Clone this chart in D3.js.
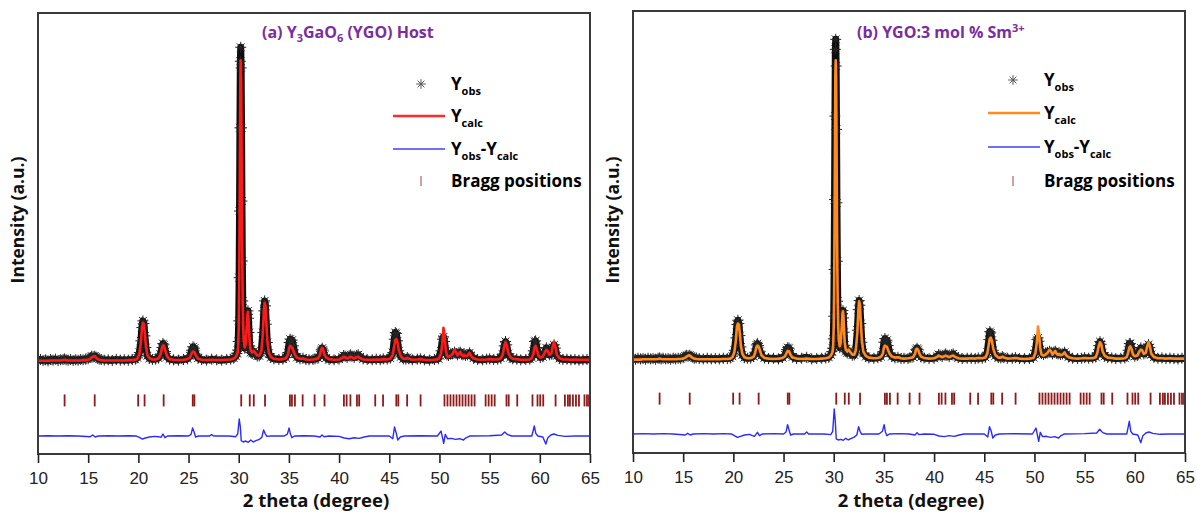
<!DOCTYPE html>
<html><head><meta charset="utf-8">
<script src="https://cdn.jsdelivr.net/npm/d3@7"></script>
<style>body{margin:0;background:#fff;}svg{display:block;}</style>
</head><body>
<svg id="c" width="1197" height="515"></svg>
<script>
// ---------- data ----------
const xTicks = [10,15,20,25,30,35,40,45,50,55,60,65];
const xDomain = [10,65];
const yDomain = [-280,1045];

// [2theta, Yobs, Ycalc]  -- panel (a) Y3GaO6 host
const profileA = [[10.0,2,0],[10.25,4,0],[10.5,1,0],[10.75,3,0],[11.0,0,0],[11.25,4,1],[11.5,2,1],[11.75,5,1],[12.0,1,1],[12.25,3,1],[12.5,4,2],[12.65,6,3],[12.8,3,2],[13.0,2,1],[13.25,4,1],[13.5,1,1],[13.75,3,1],[14.0,2,1],[14.25,4,1],[14.5,3,2],[14.75,5,2],[15.0,6,3],[15.2,10,6],[15.35,14,10],[15.5,12,13],[15.65,14,14],[15.8,11,9],[15.95,8,5],[16.1,5,3],[16.3,4,2],[16.6,2,1],[17.0,3,1],[17.4,1,1],[17.8,4,1],[18.2,2,1],[18.6,3,1],[19.0,2,2],[19.4,4,2],[19.7,5,3],[19.9,9,6],[20.1,25,20],[20.25,60,55],[20.35,100,95],[20.45,120,114],[20.55,112,110],[20.65,75,80],[20.75,40,45],[20.9,15,18],[21.1,7,8],[21.4,4,4],[21.7,5,4],[22.0,8,7],[22.2,20,18],[22.35,40,38],[22.45,52,46],[22.55,48,45],[22.7,28,30],[22.85,12,14],[23.1,5,5],[23.5,3,3],[24.0,2,2],[24.5,4,3],[24.9,6,5],[25.15,15,10],[25.3,32,22],[25.45,42,28],[25.6,38,26],[25.75,20,15],[25.95,8,6],[26.3,4,3],[26.8,2,2],[27.3,5,3],[27.8,3,2],[28.3,2,2],[28.8,4,3],[29.2,5,4],[29.5,8,6],[29.7,14,12],[29.82,22,18],[29.9,32,26],[29.95,58,46],[30.0,120,100],[30.04,250,200],[30.08,450,380],[30.12,700,620],[30.16,900,850],[30.2,942,903],[30.24,880,850],[30.28,700,660],[30.32,480,440],[30.36,300,280],[30.4,180,170],[30.45,110,100],[30.5,66,60],[30.6,38,40],[30.7,48,52],[30.8,95,100],[30.87,140,140],[30.92,150,147],[30.97,128,130],[31.03,85,90],[31.1,45,52],[31.2,25,30],[31.35,22,25],[31.5,28,30],[31.65,20,24],[31.85,14,16],[32.05,15,16],[32.25,30,28],[32.4,85,80],[32.5,150,145],[32.58,180,174],[32.66,165,165],[32.75,110,115],[32.85,55,60],[33.0,22,25],[33.2,10,12],[33.5,6,6],[34.0,4,4],[34.4,5,5],[34.7,10,8],[34.9,25,18],[35.02,55,38],[35.12,65,45],[35.22,55,42],[35.32,62,40],[35.45,45,30],[35.6,22,18],[35.8,10,10],[36.1,6,6],[36.4,8,7],[36.7,4,4],[37.0,3,3],[37.4,4,4],[37.6,6,5],[37.9,8,7],[38.1,18,18],[38.22,33,35],[38.32,38,39],[38.42,32,33],[38.55,16,18],[38.7,8,10],[39.0,4,5],[39.5,3,3],[40.0,5,4],[40.3,10,8],[40.45,16,12],[40.6,14,10],[40.8,10,7],[41.0,15,10],[41.15,18,12],[41.3,14,10],[41.5,10,7],[41.75,16,11],[41.9,18,12],[42.1,12,8],[42.4,6,4],[42.8,4,3],[43.3,3,3],[43.7,5,4],[44.1,3,3],[44.4,6,5],[44.8,5,4],[45.1,8,6],[45.35,25,18],[45.5,65,45],[45.6,85,62],[45.7,82,65],[45.82,60,55],[45.95,30,32],[46.15,12,14],[46.4,6,6],[46.65,5,6],[46.8,10,9],[46.95,6,6],[47.3,3,3],[47.8,5,4],[48.1,6,5],[48.5,3,3],[49.0,2,2],[49.5,4,3],[49.9,6,5],[50.15,30,20],[50.3,65,55],[50.4,72,99],[50.5,58,80],[50.62,30,35],[50.75,18,15],[50.9,16,12],[51.1,20,15],[51.3,22,20],[51.5,26,33],[51.65,22,26],[51.8,18,16],[51.95,24,22],[52.08,26,27],[52.2,20,18],[52.35,18,14],[52.45,20,18],[52.6,16,14],[52.8,18,16],[53.0,24,24],[53.15,16,14],[53.4,8,7],[53.8,4,4],[54.3,3,3],[54.7,5,4],[55.0,6,5],[55.4,4,4],[55.8,5,4],[56.1,8,7],[56.3,20,18],[56.45,45,42],[56.58,58,56],[56.7,48,48],[56.85,22,25],[57.05,10,12],[57.3,6,6],[57.7,5,5],[58.1,3,3],[58.6,4,3],[59.0,5,4],[59.2,10,8],[59.35,30,20],[59.48,58,40],[59.58,60,45],[59.7,40,35],[59.85,18,16],[60.05,10,10],[60.3,12,12],[60.5,28,25],[60.65,39,33],[60.78,30,30],[60.95,18,18],[61.15,20,22],[61.3,40,45],[61.42,48,57],[61.55,38,42],[61.7,15,18],[61.95,7,8],[62.3,4,4],[62.7,5,4],[63.1,3,3],[63.5,4,4],[63.9,2,3],[64.3,3,3],[64.7,4,3],[65.0,3,3]];

// [2theta, Yobs - Ycalc] -- panel (a)
const diffA = [[10,0],[11,1],[12,0],[13,1],[14,0],[15.2,-2],[15.45,3],[15.7,-3],[16,0],[17,1],[18,0],[19,1],[19.8,0],[20.1,-4],[20.4,-9],[20.7,-6],[21.1,-3],[21.6,-1],[22.0,-2],[22.25,-4],[22.45,6],[22.65,-5],[22.9,0],[24,1],[25.0,0],[25.25,5],[25.4,24],[25.55,12],[25.7,-3],[26.0,0],[27.1,0],[27.3,4],[27.5,0],[29.0,0],[29.7,-2],[29.9,6],[30.05,51],[30.15,30],[30.25,-14],[30.45,-18],[30.7,-15],[30.95,-19],[31.2,-12],[31.45,-18],[31.7,-14],[32.0,-11],[32.3,-4],[32.48,18],[32.62,8],[32.8,-1],[33.2,0],[34.5,0],[34.85,6],[35.02,24],[35.15,6],[35.3,-5],[35.55,0],[36.5,1],[37.5,0],[38.1,-3],[38.3,3],[38.5,-2],[39,0],[40,-1],[40.5,-6],[41.0,-8],[41.5,-5],[42.0,-7],[42.5,-3],[43,0],[45.0,0],[45.35,-8],[45.52,27],[45.68,10],[45.85,-12],[46.1,-3],[46.5,0],[48,1],[49.8,0],[50.15,15],[50.3,-4],[50.42,-22],[50.58,5],[50.8,-8],[51.2,-7],[51.6,-10],[52.0,-8],[52.4,-12],[52.6,-6],[53.0,0],[55,1],[56.2,3],[56.5,12],[56.8,4],[57.2,0],[59.2,0],[59.45,30],[59.6,8],[59.8,0],[60.3,-3],[60.6,-24],[60.8,-5],[61.1,3],[61.4,6],[61.8,2],[62.5,-1],[63.5,0],[65,0]];

// [2theta, Yobs, Ycalc] -- panel (b) YGO:3 mol % Sm3+
const profileB = [[10.0,3,0],[10.25,1,0],[10.5,4,0],[10.75,2,0],[11.0,3,1],[11.25,1,1],[11.5,4,1],[11.75,2,1],[12.0,3,1],[12.25,1,1],[12.5,4,2],[12.65,5,3],[12.8,2,2],[13.0,4,1],[13.25,2,1],[13.5,3,1],[13.75,1,1],[14.0,4,1],[14.25,2,1],[14.5,4,2],[14.75,3,2],[15.0,6,3],[15.2,11,6],[15.35,13,9],[15.5,11,12],[15.65,13,13],[15.8,10,8],[15.95,7,5],[16.1,4,3],[16.3,5,2],[16.6,3,1],[17.0,2,1],[17.4,4,1],[17.8,2,1],[18.2,3,1],[18.6,2,1],[19.0,4,2],[19.4,3,2],[19.7,5,3],[19.9,10,7],[20.1,28,22],[20.25,65,58],[20.35,105,98],[20.45,118,108],[20.55,108,104],[20.65,72,76],[20.75,38,42],[20.9,14,17],[21.1,6,7],[21.4,4,4],[21.7,5,4],[22.0,9,8],[22.15,22,18],[22.3,44,38],[22.4,48,42],[22.5,42,40],[22.65,25,28],[22.8,12,13],[23.1,5,5],[23.5,3,3],[24.0,4,2],[24.5,2,3],[24.9,6,5],[25.15,14,10],[25.3,30,20],[25.42,36,26],[25.55,34,25],[25.7,18,14],[25.9,8,6],[26.3,3,3],[26.8,4,2],[27.3,7,3],[27.8,2,2],[28.3,3,2],[28.8,4,3],[29.2,5,4],[29.5,7,6],[29.7,14,12],[29.82,24,18],[29.9,34,26],[29.95,62,46],[30.0,130,100],[30.04,270,200],[30.08,480,380],[30.12,730,620],[30.16,930,850],[30.2,960,897],[30.24,880,845],[30.28,690,655],[30.32,470,435],[30.36,295,275],[30.4,175,165],[30.45,105,98],[30.5,64,60],[30.6,36,40],[30.7,45,50],[30.8,92,98],[30.87,138,138],[30.92,147,145],[30.97,125,128],[31.03,82,88],[31.1,43,50],[31.2,24,30],[31.35,20,24],[31.5,26,30],[31.65,19,23],[31.85,13,15],[32.05,14,15],[32.2,30,28],[32.35,88,80],[32.45,150,145],[32.53,177,175],[32.61,163,165],[32.7,108,112],[32.8,52,58],[32.95,20,24],[33.2,9,11],[33.5,5,6],[34.0,4,4],[34.4,6,5],[34.7,9,8],[34.9,24,18],[35.0,52,36],[35.1,63,42],[35.2,52,40],[35.3,58,38],[35.42,42,28],[35.58,20,17],[35.8,9,9],[36.1,5,6],[36.4,7,7],[36.7,3,4],[37.0,4,3],[37.4,3,4],[37.6,6,5],[37.9,8,7],[38.1,17,17],[38.2,30,31],[38.3,34,33],[38.4,30,30],[38.55,15,17],[38.7,8,9],[39.0,5,5],[39.5,3,3],[40.0,4,4],[40.3,9,8],[40.45,15,12],[40.6,13,10],[40.8,9,7],[41.0,14,10],[41.15,17,12],[41.3,13,10],[41.5,9,7],[41.75,15,11],[41.9,17,12],[42.1,11,8],[42.4,6,4],[42.8,3,3],[43.3,4,3],[43.7,4,4],[44.1,3,3],[44.4,5,5],[44.8,4,4],[45.1,7,6],[45.3,22,18],[45.45,60,45],[45.55,84,63],[45.65,80,66],[45.77,58,55],[45.9,28,32],[46.1,11,14],[46.4,6,6],[46.65,5,6],[46.8,9,9],[46.95,6,6],[47.3,4,3],[47.8,4,4],[48.1,6,5],[48.5,3,3],[49.0,3,2],[49.5,3,3],[49.9,6,5],[50.1,28,20],[50.25,60,55],[50.35,65,99],[50.45,55,80],[50.57,30,35],[50.7,18,15],[50.9,15,12],[51.1,19,15],[51.3,22,20],[51.5,25,30],[51.65,22,25],[51.8,17,15],[51.95,23,21],[52.08,25,26],[52.2,20,18],[52.35,17,14],[52.45,19,17],[52.6,15,13],[52.8,17,15],[53.0,22,22],[53.15,15,13],[53.4,8,7],[53.8,4,4],[54.3,3,3],[54.7,4,4],[55.0,6,5],[55.4,4,4],[55.8,5,4],[56.1,8,7],[56.25,20,18],[56.4,42,40],[56.53,54,52],[56.65,46,46],[56.8,21,24],[57.0,10,12],[57.3,6,6],[57.7,5,5],[58.1,3,3],[58.6,4,3],[59.0,5,4],[59.2,10,8],[59.33,28,20],[59.45,48,36],[59.55,48,40],[59.67,36,32],[59.82,17,15],[60.0,10,10],[60.25,12,12],[60.45,26,24],[60.6,35,30],[60.73,28,28],[60.9,17,17],[61.1,20,21],[61.25,38,42],[61.37,45,52],[61.5,36,40],[61.65,15,17],[61.9,7,8],[62.3,4,4],[62.7,5,4],[63.1,3,3],[63.5,4,4],[63.9,3,3],[64.3,2,3],[64.7,4,3],[65.0,3,3]];

// [2theta, Yobs - Ycalc] -- panel (b)
const diffB = [[10,0],[11,1],[12,0],[13,1],[14,0],[15.2,-3],[15.45,2],[15.7,-3],[16,0],[17,1],[18,0],[19,1],[19.8,0],[20.1,-5],[20.4,-10],[20.7,-7],[21.1,-3],[21.6,-1],[21.9,-5],[22.1,-7],[22.4,5],[22.6,-5],[22.9,0],[24,1],[25.0,0],[25.25,6],[25.4,28],[25.55,12],[25.7,-3],[26.0,0],[27.1,0],[27.3,6],[27.5,0],[29.0,0],[29.7,-2],[29.9,8],[30.05,75],[30.15,40],[30.25,-15],[30.45,-18],[30.7,-16],[30.95,-19],[31.2,-13],[31.45,-18],[31.7,-14],[32.0,-10],[32.3,-3],[32.48,22],[32.62,8],[32.8,-1],[33.2,0],[34.5,0],[34.85,8],[35.02,28],[35.15,6],[35.3,-5],[35.55,0],[36.5,1],[37.5,0],[38.1,-3],[38.3,4],[38.5,-2],[39,0],[40,-1],[40.5,-6],[41.0,-8],[41.5,-5],[42.0,-7],[42.5,-3],[43,0],[45.0,0],[45.35,-9],[45.52,22],[45.68,10],[45.85,-12],[46.1,-3],[46.5,0],[48,1],[49.8,0],[50.15,18],[50.3,-4],[50.42,-22],[50.58,5],[50.8,-8],[51.2,-7],[51.6,-10],[52.0,-8],[52.4,-12],[52.6,-6],[53.0,0],[55,1],[56.2,3],[56.5,14],[56.8,4],[57.2,0],[59.2,0],[59.45,38],[59.6,8],[59.8,0],[60.3,-3],[60.6,-26],[60.8,-5],[61.1,3],[61.4,6],[61.8,2],[62.5,-1],[63.5,0],[65,0]];

// Bragg reflection positions (2theta)
const braggPositions = [12.65,15.65,19.98,20.62,22.52,25.42,25.58,30.25,31.1,31.5,32.62,35.1,35.3,35.6,36.37,37.56,38.55,40.48,40.75,41.13,41.78,42.0,43.6,44.38,45.7,45.9,46.78,48.12,50.5,50.8,51.1,51.4,51.7,52.0,52.3,52.6,52.9,53.2,53.5,54.6,54.9,55.2,55.5,56.68,56.9,57.75,59.27,59.77,60.04,60.34,61.57,62.5,62.8,63.0,63.3,63.6,63.9,64.45,64.7,64.9];

// levels (intensity units) of the Bragg row and of the difference curve
const braggLevelA = -119, diffOffsetA = -226;
const braggLevelB = -117, diffOffsetB = -223;

// ---------- drawing ----------
const svg = d3.select('#c');
const starPath = 'M-5.5,0H5.5M0,-5.5V5.5M-3.9,-3.9L3.9,3.9M-3.9,3.9L3.9,-3.9';
const legendStar = 'M-4.8,0H4.8M0,-4.8V4.8M-3.4,-3.4L3.4,3.4M-3.4,3.4L3.4,-3.4';
const subSize = '11px';

function richText(g, x, y, parts, size) {
  const t = g.append('text').attr('x', x).attr('y', y)
    .attr('font-family', '"Open Sans", sans-serif').attr('font-weight', 700)
    .attr('font-size', size).attr('fill', '#000');
  parts.forEach(p => {
    const ts = t.append('tspan').text(p.t);
    if (p.sub) ts.attr('font-size', subSize).attr('dy', 5);
    if (p.back) ts.attr('dy', -5);
  });
  return t;
}

function drawPanel(cfg, idx) {
  const x = d3.scaleLinear().domain(xDomain).range([cfg.l, cfg.r]);
  const y = d3.scaleLinear().domain(yDomain).range([cfg.b, cfg.t]);
  const g = svg.append('g');
  const clipId = 'clip' + idx;
  g.append('clipPath').attr('id', clipId).append('rect')
    .attr('x', cfg.l).attr('y', cfg.t).attr('width', cfg.r - cfg.l).attr('height', cfg.b - cfg.t);
  const pg = g.append('g').attr('clip-path', `url(#${clipId})`);

  // observed: dense black band + asterisks
  pg.append('path').datum(cfg.profile)
    .attr('d', d3.line().x(d => x(d[0])).y(d => y(d[1])))
    .attr('fill', 'none').attr('stroke', '#0d0d0d').attr('stroke-width', 7)
    .attr('stroke-linejoin', 'round');
  pg.selectAll('path.star').data(cfg.profile).join('path').attr('class', 'star')
    .attr('d', starPath)
    .attr('transform', d => `translate(${x(d[0])},${y(d[1])})`)
    .attr('fill', 'none').attr('stroke', '#262626').attr('stroke-width', 1);

  // calculated
  pg.append('path').datum(cfg.profile)
    .attr('d', d3.line().x(d => x(d[0])).y(d => y(d[2])))
    .attr('fill', 'none').attr('stroke', cfg.color).attr('stroke-width', 2.6)
    .attr('stroke-linejoin', 'round');

  // Bragg positions
  const by = y(cfg.braggLevel);
  pg.selectAll('line.bragg').data(braggPositions).join('line').attr('class', 'bragg')
    .attr('x1', d => x(d)).attr('x2', d => x(d))
    .attr('y1', by - 6).attr('y2', by + 6)
    .attr('stroke', '#8e1b1b').attr('stroke-width', 1.8);

  // difference
  pg.append('path').datum(cfg.diff)
    .attr('d', d3.line().x(d => x(d[0])).y(d => y(d[1] + cfg.diffOffset)))
    .attr('fill', 'none').attr('stroke', '#2b2bff').attr('stroke-width', 1.4)
    .attr('stroke-linejoin', 'round');

  // frame
  g.append('rect').attr('x', cfg.l).attr('y', cfg.t)
    .attr('width', cfg.r - cfg.l).attr('height', cfg.b - cfg.t)
    .attr('fill', 'none').attr('stroke', '#3a3a3a').attr('stroke-width', 2);

  // x axis
  const ax = g.append('g').attr('transform', `translate(0,${cfg.b})`)
    .call(d3.axisBottom(x).tickValues(xTicks).tickSize(9).tickPadding(9).tickFormat(d3.format('d')));
  ax.select('.domain').remove();
  ax.selectAll('.tick line').attr('stroke', '#222').attr('stroke-width', 1.6);
  ax.selectAll('.tick text').attr('font-family', '"Liberation Sans", Arial, sans-serif')
    .attr('font-size', 17).attr('fill', '#222');

  // axis titles
  g.append('text').attr('x', (cfg.l + cfg.r) / 2 + 2).attr('y', 507)
    .attr('text-anchor', 'middle').attr('font-family', '"Open Sans", sans-serif')
    .attr('font-weight', 700).attr('font-size', 18.5).attr('fill', '#111')
    .text('2 theta (degree)');
  g.append('text').attr('transform', `translate(${cfg.l - 14},${cfg.ytitleY}) rotate(-90)`)
    .attr('text-anchor', 'middle').attr('font-family', '"Open Sans", sans-serif')
    .attr('font-weight', 700).attr('font-size', 17.5).attr('fill', '#111')
    .text('Intensity (a.u.)');

  // panel title
  const tt = g.append('text').attr('x', cfg.titleX).attr('y', 38)
    .attr('font-family', '"Open Sans", sans-serif').attr('font-weight', 700)
    .attr('font-size', 16).attr('fill', '#7a2d9e');
  cfg.title.forEach(p => {
    const ts = tt.append('tspan').text(p.t);
    if (p.sub) ts.attr('font-size', '11px').attr('dy', 4);
    else if (p.sup) ts.attr('font-size', '11px').attr('dy', -6);
    else if (p.back) ts.attr('dy', p.back);
  });

  // legend
  const L = cfg.legend;
  g.append('path').attr('d', legendStar).attr('transform', `translate(${L.sx},${L.rows[0]})`)
    .attr('fill', 'none').attr('stroke', '#555').attr('stroke-width', 1);
  g.append('line').attr('x1', L.lx1).attr('x2', L.lx2).attr('y1', L.rows[1]).attr('y2', L.rows[1])
    .attr('stroke', cfg.legendColor).attr('stroke-width', 2.4);
  g.append('line').attr('x1', L.lx1).attr('x2', L.lx2).attr('y1', L.rows[2]).attr('y2', L.rows[2])
    .attr('stroke', '#6f6fff').attr('stroke-width', 2);
  g.append('line').attr('x1', L.sx).attr('x2', L.sx).attr('y1', L.rows[3] - 5).attr('y2', L.rows[3] + 5)
    .attr('stroke', '#c47f7f').attr('stroke-width', 1.5);
  richText(g, L.tx, L.rows[0] + 6, [{t: 'Y'}, {t: 'obs', sub: true}], 17);
  richText(g, L.tx, L.rows[1] + 6, [{t: 'Y'}, {t: 'calc', sub: true}], 17);
  richText(g, L.tx, L.rows[2] + 6, [{t: 'Y'}, {t: 'obs', sub: true}, {t: '-Y', back: true}, {t: 'calc', sub: true}], 17);
  richText(g, L.tx, L.rows[3] + 6, [{t: 'Bragg positions'}], 17);
}

drawPanel({
  l: 38, r: 590, t: 13, b: 454, ytitleY: 220,
  profile: profileA, diff: diffA, color: '#ff1a1a', legendColor: '#ff2a2a',
  braggLevel: braggLevelA, diffOffset: diffOffsetA,
  titleX: 262,
  title: [{t: '(a) Y'}, {t: '3', sub: true}, {t: 'GaO', back: -4}, {t: '6', sub: true}, {t: ' (YGO) Host', back: -4}],
  legend: {sx: 421, lx1: 393, lx2: 445, tx: 451, rows: [84, 116, 149, 181]}
}, 0);

drawPanel({
  l: 633, r: 1185, t: 11, b: 453, ytitleY: 220,
  profile: profileB, diff: diffB, color: '#ff8a1e', legendColor: '#ff8a1e',
  braggLevel: braggLevelB, diffOffset: diffOffsetB,
  titleX: 857,
  title: [{t: '(b) YGO:3 mol % Sm'}, {t: '3+', sup: true}],
  legend: {sx: 1013, lx1: 988, lx2: 1040, tx: 1044, rows: [80, 113, 147, 181]}
}, 1);
</script>
</body></html>
